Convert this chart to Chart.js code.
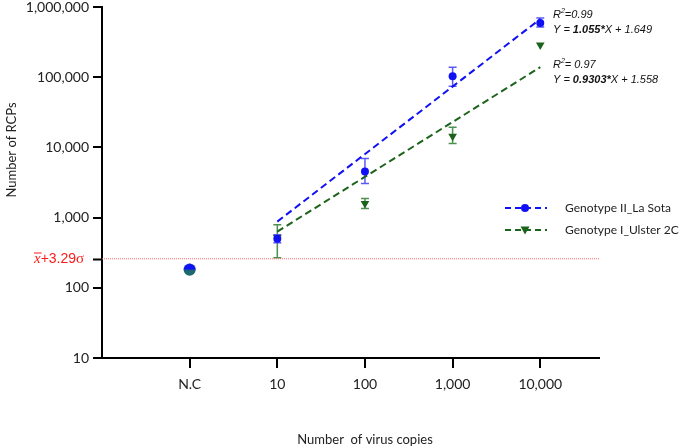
<!DOCTYPE html>
<html>
<head>
<meta charset="utf-8">
<script src="https://cdn.jsdelivr.net/npm/chart.js@4.4.1/dist/chart.umd.min.js"></script>
<style>
html,body{margin:0;padding:0;background:#fff;}
#wrap{width:685px;height:448px;position:relative;}
</style>
</head>
<body>
<div id="wrap"><canvas id="c" width="685" height="448"></canvas></div>
<script>
// ---- data ----
const categories = ['N.C', '10', '100', '1,000', '10,000'];
const yTickValues = [10, 100, 1000, 10000, 100000, 1000000];
const seriesNames = ['Genotype II_La Sota', 'Genotype I_Ulster 2C'];
const dilutionIndex = [1, 2, 3, 4];
const ncBlue = 181;
const ncGreen = 181;
const blueMeans = [501, 4540, 103000, 590000];
const blueLow = [439, 3060, 74300, 518000];
const blueHigh = [572, 6960, 139000, 696000];
const greenMeans = [520, 1585, 14360, 287000];
const greenLow = [268, 1345, 11400, null];
const greenHigh = [794, 1870, 19300, null];
const fitX = [1, 4];
const blueFit = [877, 674000];
const greenFit = [631, 139000];
const threshold = 259;
const thresholdRange = [-1, 4.67];

const BLUE = '#1010f5';
const BLUE_ERR = '#5a5af5';
const GREEN = '#1c631c';
const GREEN_ERR = '#4f8f4f';
const TEAL = '#1d6a6e';

// half-blue marker for N.C
const half = document.createElement('canvas');
half.width = 13; half.height = 13;
(function(){
  const g = half.getContext('2d');
  g.fillStyle = BLUE;
  g.beginPath();
  g.arc(6.5, 6.5, 6, Math.PI, 2 * Math.PI);
  g.closePath();
  g.fill();
})();

const pts = (xs, ys) => xs.map((x, i) => ({x: x, y: ys[i]}));

const errorBars = {
  id: 'errorBars',
  beforeDatasetsDraw(chart) {
    const ctx = chart.ctx, xs = chart.scales.x, ys = chart.scales.y;
    const draw = (lows, highs, color) => {
      ctx.save();
      ctx.strokeStyle = color;
      ctx.lineWidth = 1.5;
      dilutionIndex.forEach((d, i) => {
        if (lows[i] == null) return;
        const px = xs.getPixelForValue(d);
        const y1 = ys.getPixelForValue(lows[i]);
        const y2 = ys.getPixelForValue(highs[i]);
        ctx.beginPath();
        ctx.moveTo(px, y1); ctx.lineTo(px, y2);
        ctx.moveTo(px - 4, y1); ctx.lineTo(px + 4, y1);
        ctx.moveTo(px - 4, y2); ctx.lineTo(px + 4, y2);
        ctx.stroke();
      });
      ctx.restore();
    };
    draw(greenLow, greenHigh, GREEN_ERR);
    draw(blueLow, blueHigh, BLUE_ERR);
  }
};

const extras = {
  id: 'extras',
  afterDraw(chart) {
    const ctx = chart.ctx, ys = chart.scales.y, area = chart.chartArea;
    ctx.save();
    // threshold tick + label
    const ty = Math.round(ys.getPixelForValue(threshold)) + 0.5;
    ctx.strokeStyle = '#000'; ctx.lineWidth = 2;
    ctx.beginPath(); ctx.moveTo(area.left - 9, ty); ctx.lineTo(area.left, ty); ctx.stroke();
    ctx.fillStyle = '#ff1a1a';
    ctx.textBaseline = 'middle';
    ctx.font = 'italic 15px "Liberation Serif"';
    ctx.textAlign = 'left';
    ctx.fillText('x', 34, ty);
    const xw = ctx.measureText('x').width;
    ctx.fillRect(34, ty - 7, xw + 1, 1);
    ctx.font = '14px "Liberation Sans"';
    ctx.fillText('+3.29', 34 + xw, ty);
    const w2 = ctx.measureText('+3.29').width;
    ctx.font = '15px "Liberation Serif"';
    ctx.fillText('σ', 34 + xw + w2, ty);

    // axis titles
    ctx.fillStyle = '#222';
    ctx.font = '13px Lato';
    ctx.textAlign = 'center';
    ctx.fillText('Number  of virus copies', 365, 440);
    ctx.save();
    ctx.translate(12, 150);
    ctx.rotate(-Math.PI / 2);
    ctx.fillText('Number of RCPs', 0, 0);
    ctx.restore();

    // legend
    const legend = [
      {y: 208, color: BLUE, name: seriesNames[0], marker: 'circle'},
      {y: 230, color: GREEN, name: seriesNames[1], marker: 'tri'}
    ];
    legend.forEach(l => {
      ctx.strokeStyle = l.color; ctx.lineWidth = 2;
      ctx.setLineDash([6, 4]);
      ctx.beginPath(); ctx.moveTo(505, l.y); ctx.lineTo(547, l.y); ctx.stroke();
      ctx.setLineDash([]);
      ctx.fillStyle = l.color;
      ctx.beginPath();
      if (l.marker === 'circle') {
        ctx.arc(525, l.y, 4, 0, Math.PI * 2);
      } else {
        ctx.moveTo(520.5, l.y - 3.5); ctx.lineTo(529.5, l.y - 3.5); ctx.lineTo(525, l.y + 4.5); ctx.closePath();
      }
      ctx.fill();
      ctx.fillStyle = '#222';
      ctx.font = '12px Lato';
      ctx.textAlign = 'left';
      ctx.fillText(l.name, 565, l.y);
    });

    // regression annotations
    const eq = (x, yR, r2, slope, icpt) => {
      ctx.fillStyle = '#111';
      ctx.textAlign = 'left';
      ctx.textBaseline = 'alphabetic';
      ctx.font = 'italic 11px "Liberation Sans"';
      ctx.fillText('R', x, yR);
      let cx = x + ctx.measureText('R').width;
      ctx.font = 'italic 7px "Liberation Sans"';
      ctx.fillText('2', cx, yR - 5);
      cx += ctx.measureText('2').width;
      ctx.font = 'italic 11px "Liberation Sans"';
      ctx.fillText(r2, cx, yR);
      const yE = yR + 15;
      ctx.fillText('Y = ', x, yE);
      cx = x + ctx.measureText('Y = ').width;
      ctx.font = 'italic bold 11px "Liberation Sans"';
      ctx.fillText(slope + '*', cx, yE);
      cx += ctx.measureText(slope + '*').width;
      ctx.font = 'italic 11px "Liberation Sans"';
      ctx.fillText('X + ' + icpt, cx, yE);
    };
    eq(553, 18, '=0.99', '1.055', '1.649');
    eq(553, 68, '= 0.97', '0.9303', '1.558');
    ctx.restore();
  }
};

new Chart(document.getElementById('c'), {
  type: 'scatter',
  data: {
    datasets: [
      {label: 'NC blue', data: [{x: 0, y: ncBlue}], pointStyle: half, pointRadius: 6, showLine: false},
      {label: 'NC green', data: [{x: 0, y: ncGreen}], pointStyle: 'circle', pointRadius: 6, backgroundColor: TEAL, borderColor: TEAL, borderWidth: 0, showLine: false},
      {label: seriesNames[0], data: pts(dilutionIndex, blueMeans), pointStyle: 'circle', pointRadius: 4, backgroundColor: BLUE, borderColor: BLUE, borderWidth: 0, showLine: false},
      {label: seriesNames[1], data: pts(dilutionIndex, greenMeans), pointStyle: 'triangle', rotation: 180, pointRadius: 5, backgroundColor: GREEN, borderColor: GREEN, borderWidth: 0, showLine: false},
      {type: 'line', label: 'fit blue', data: pts(fitX, blueFit), borderColor: BLUE, borderWidth: 2, borderDash: [7, 4], pointRadius: 0, fill: false},
      {type: 'line', label: 'fit green', data: pts(fitX, greenFit), borderColor: GREEN, borderWidth: 2, borderDash: [7, 4], pointRadius: 0, fill: false},
      {type: 'line', label: 'threshold', data: pts(thresholdRange, [threshold, threshold]), borderColor: '#ff6a6a', borderWidth: 1, borderDash: [1, 1], pointRadius: 0, fill: false}
    ]
  },
  options: {
    responsive: false,
    animation: false,
    events: [],
    layout: {padding: {top: 0, right: 86, left: 0, bottom: 0}},
    plugins: {legend: {display: false}, tooltip: {enabled: false}, title: {display: false}},
    scales: {
      x: {
        type: 'linear',
        min: -1, max: 4.67,
        afterBuildTicks: s => { s.ticks = categories.map((c, i) => ({value: i})); },
        afterFit: s => { s.height = 90; },
        ticks: {
          autoSkip: false, maxRotation: 0,
          callback: v => categories[v] ?? '',
          font: {family: 'Lato', size: 14}, color: '#222', padding: 8
        },
        grid: {drawOnChartArea: false, drawTicks: true, tickLength: 10, color: '#000', lineWidth: 2},
        border: {color: '#000', width: 2}
      },
      y: {
        type: 'logarithmic',
        min: 10, max: 1000000,
        afterBuildTicks: s => { s.ticks = yTickValues.map(v => ({value: v})); },
        afterFit: s => { s.width = 102; s.paddingTop = 7; s.paddingBottom = 0; },
        ticks: {
          callback: v => Number(v).toLocaleString('en-US'),
          font: {family: 'Lato', size: 14, lineHeight: 1}, color: '#222', padding: 4
        },
        grid: {drawOnChartArea: false, drawTicks: true, tickLength: 9, color: '#000', lineWidth: 2},
        border: {color: '#000', width: 2}
      }
    }
  },
  plugins: [errorBars, extras]
});
</script>
</body>
</html>
